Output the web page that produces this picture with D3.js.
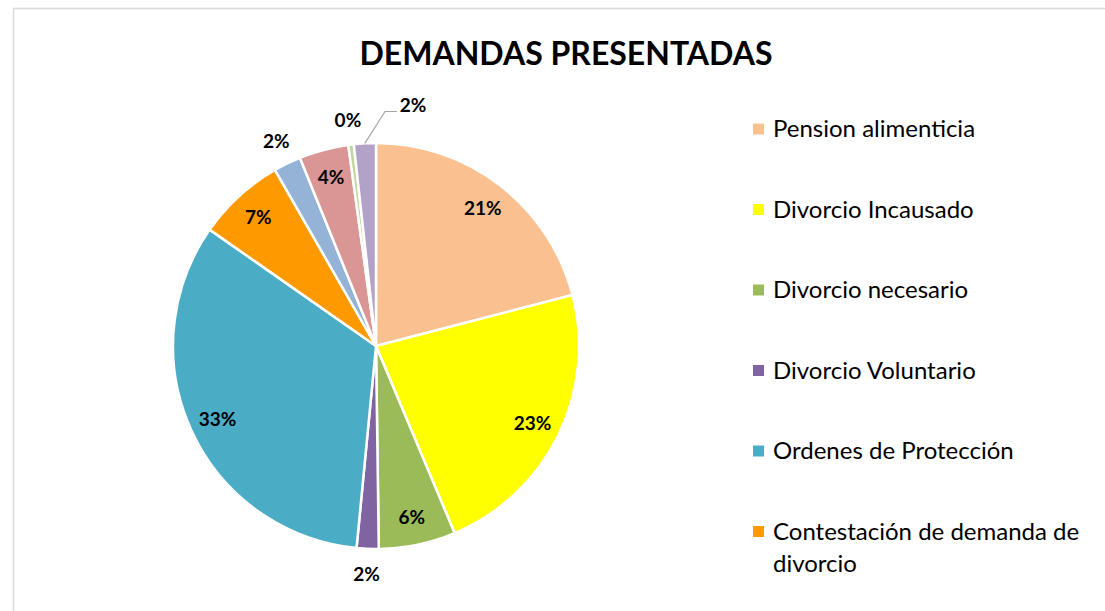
<!DOCTYPE html>
<html>
<head>
<meta charset="utf-8">
<script src="https://cdn.jsdelivr.net/npm/d3@7"></script>
<style>
  body { margin: 0; background: #fff; }
  svg { display: block; }
</style>
</head>
<body>
<svg id="chart" width="1105" height="611"></svg>
<script>
// Chart data (counts)
const title = "DEMANDAS PRESENTADAS";
const categories = [
    "Pension alimenticia",
    "Divorcio Incausado",
    "Divorcio necesario",
    "Divorcio Voluntario",
    "Ordenes de Protección",
    "Contestación de demanda de divorcio",
    "Otros 1",
    "Otros 2",
    "Otros 3",
    "Otros 4"
];
const values = [48, 52, 14, 4, 76, 16, 5, 9, 1, 4];
const colors = [
    "#FAC090", "#FFFF00", "#9BBB59", "#8064A2", "#4BACC6",
    "#FF9900", "#95B3D7", "#D99694", "#C3D69B", "#B3A2C7"
];
// only the first entries fit in the legend box, the rest are cut off
const legendShown = 6;

const width = 1105;
const height = 611;
const cx = 376, cy = 346, radius = 203;
const fontFam = "Lato, 'Open Sans', sans-serif";

const svg = d3.select("#chart");

// chart frame (cut off at right and bottom)
svg.append("rect")
    .attr("x", 13.5).attr("y", 8.5)
    .attr("width", width).attr("height", height)
    .attr("fill", "#fff")
    .attr("stroke", "#D9D9D9")
    .attr("stroke-width", 1.5);

svg.append("text")
    .attr("x", 566).attr("y", 65)
    .attr("text-anchor", "middle")
    .style("font-family", fontFam)
    .style("font-weight", "bold")
    .style("font-size", "32px")
    .attr("fill", "#000")
    .text(title);

const total = d3.sum(values);
const data = categories.map((c, i) => ({ name: c, value: values[i], color: colors[i] }));

const pie = d3.pie().value(d => d.value).sort(null);
const arcs = pie(data);

const arc = d3.arc().innerRadius(0).outerRadius(radius);

const g = svg.append("g").attr("transform", `translate(${cx},${cy})`);

g.selectAll("path")
    .data(arcs)
    .enter()
    .append("path")
        .attr("d", arc)
        .attr("fill", d => d.data.color)
        .attr("stroke", "#fff")
        .attr("stroke-width", 2.5)
        .attr("stroke-linejoin", "round");

// label placement: inside for big slices, outside for small ones
const pctFmt = d => Math.round(d.value / total * 100) + "%";
const inner = d3.arc().innerRadius(radius * 0.86).outerRadius(radius * 0.86);
const outer = d3.arc().innerRadius(radius + 25).outerRadius(radius + 25);

// the last slice gets a leader line and its label pushed right
const leaderIdx = arcs.length - 1;

g.selectAll("text.lbl")
    .data(arcs)
    .enter()
    .append("text")
        .attr("class", "lbl")
        .attr("transform", (d, i) => {
            if (i === leaderIdx) return "translate(37,-241)";
            const p = (d.value / total) < 0.03 ? outer.centroid(d) : inner.centroid(d);
            return `translate(${p[0]},${p[1]})`;
        })
        .attr("text-anchor", "middle")
        .attr("dy", "0.36em")
        .style("font-family", fontFam)
        .style("font-weight", "bold")
        .style("font-size", "19px")
        .attr("fill", "#000")
        .text(pctFmt);

// leader line for the last slice
const la = arcs[leaderIdx];
const mid = (la.startAngle + la.endAngle) / 2;
const p0 = [Math.sin(mid) * radius, -Math.cos(mid) * radius];
g.append("polyline")
    .attr("points", [p0, [9, -234.5], [21, -234.5]].map(p => p.join(",")).join(" "))
    .attr("fill", "none")
    .attr("stroke", "#A6A6A6")
    .attr("stroke-width", 1.2);

// legend
const legend = svg.append("g").attr("transform", "translate(753,0)");
const rowY = d3.scaleLinear().domain([0, 1]).range([129, 209.5]);
const maxLegendW = 325;

const items = legend.selectAll("g")
    .data(data.slice(0, legendShown))
    .enter()
    .append("g")
        .attr("transform", (d, i) => `translate(0,${rowY(i)})`);

items.append("rect")
    .attr("x", 0).attr("y", -5.5)
    .attr("width", 11).attr("height", 11)
    .attr("fill", d => d.color);

items.append("text")
    .attr("x", 20)
    .attr("y", 8)
    .style("font-family", fontFam)
    .style("font-size", "24px")
    .attr("fill", "#000")
    .each(function (d) {
        // simple word wrap
        const t = d3.select(this);
        const words = d.name.split(" ");
        let line = [];
        let tspan = t.append("tspan").attr("x", 20).attr("dy", 0);
        words.forEach(w => {
            line.push(w);
            tspan.text(line.join(" "));
            if (tspan.node().getComputedTextLength() > maxLegendW && line.length > 1) {
                line.pop();
                tspan.text(line.join(" "));
                line = [w];
                tspan = t.append("tspan").attr("x", 20).attr("dy", 32).text(w);
            }
        });
    });
</script>
</body>
</html>
